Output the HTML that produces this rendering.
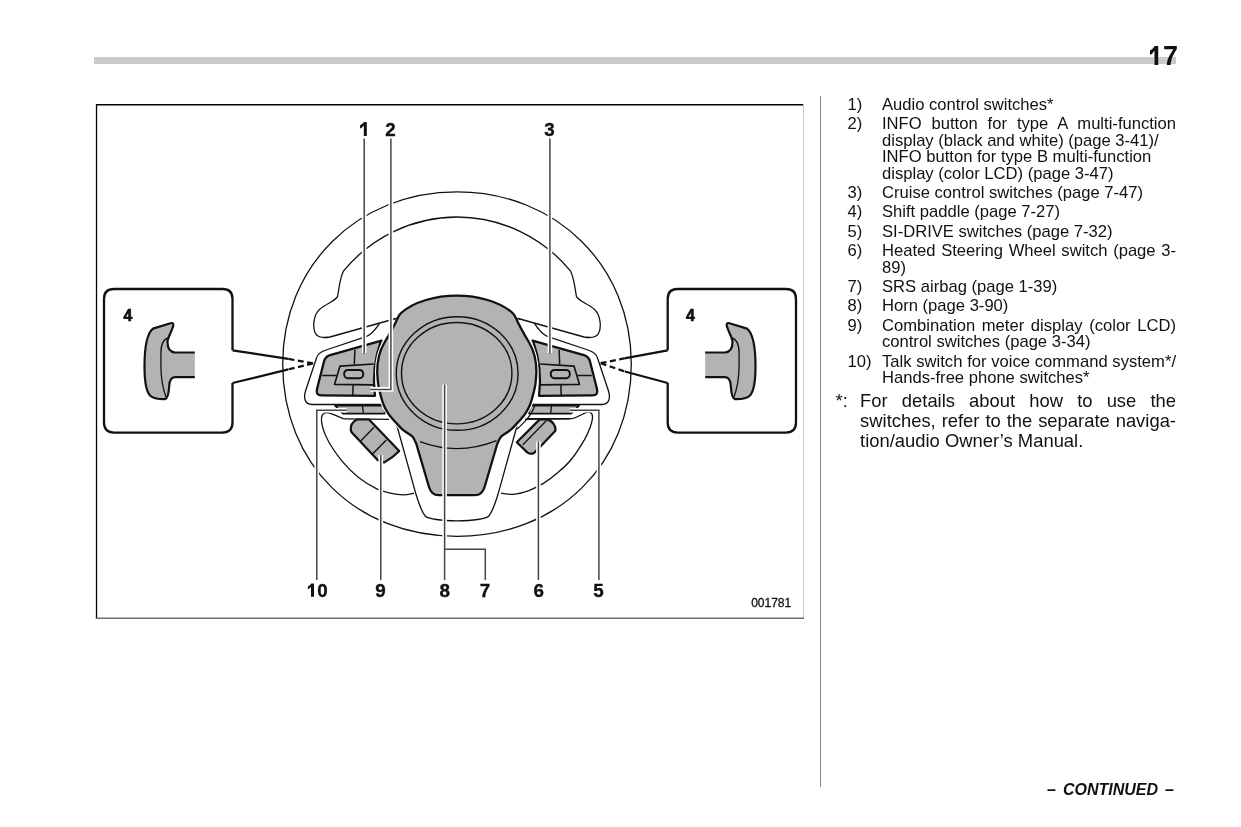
<!DOCTYPE html>
<html><head><meta charset="utf-8">
<style>
html,body{margin:0;padding:0;background:#fff;}
body{width:1241px;height:827px;position:relative;overflow:hidden;font-family:"Liberation Sans",sans-serif;color:#111;}
.g{position:absolute;left:0;top:0;width:1241px;height:827px;will-change:transform;}
.a{position:absolute;white-space:nowrap;}
.l{position:absolute;font-size:16.6px;line-height:16.6px;white-space:nowrap;}
.n{left:847.5px;}
.t{left:882px;}
.j{width:294px;text-align:justify;text-align-last:justify;}
.f{position:absolute;font-size:18.4px;line-height:18.4px;white-space:nowrap;}
</style></head><body>
<div class="a" style="left:94px;top:57px;width:1082px;height:7px;background:#cacaca;"></div>

<div class="a" style="left:820px;top:96px;width:1px;height:691px;background:#888;"></div>

<div class="g">
<!-- right column text -->
<div class="l n" style="top:96.95px">1)</div>
<div class="l t" style="top:96.95px">Audio control switches*</div>
<div class="l n" style="top:116.15px">2)</div>
<div class="l t j" style="top:116.15px">INFO button for type A multi-function</div>
<div class="l t" style="top:133.35px">display (black and white) (page 3-41)/</div>
<div class="l t" style="top:149.45px">INFO button for type B multi-function</div>
<div class="l t" style="top:166.45px">display (color LCD) (page 3-47)</div>
<div class="l n" style="top:185.35px">3)</div>
<div class="l t" style="top:185.35px">Cruise control switches (page 7-47)</div>
<div class="l n" style="top:204.45px">4)</div>
<div class="l t" style="top:204.45px">Shift paddle (page 7-27)</div>
<div class="l n" style="top:224.35px">5)</div>
<div class="l t" style="top:224.35px">SI-DRIVE switches (page 7-32)</div>
<div class="l n" style="top:243.05px">6)</div>
<div class="l t j" style="top:243.05px">Heated Steering Wheel switch (page 3-</div>
<div class="l t" style="top:260.35px">89)</div>
<div class="l n" style="top:279.45px">7)</div>
<div class="l t" style="top:279.45px">SRS airbag (page 1-39)</div>
<div class="l n" style="top:298.45px">8)</div>
<div class="l t" style="top:298.45px">Horn (page 3-90)</div>
<div class="l n" style="top:318.05px">9)</div>
<div class="l t j" style="top:318.05px">Combination meter display (color LCD)</div>
<div class="l t" style="top:334.25px">control switches (page 3-34)</div>
<div class="l n" style="top:354.45px">10)</div>
<div class="l t j" style="top:354.45px">Talk switch for voice command system*/</div>
<div class="l t" style="top:370.45px">Hands-free phone switches*</div>
<div class="f" style="left:835.5px;top:391.52px">*:</div>
<div class="f j" style="left:860.1px;width:315.9px;top:391.52px">For details about how to use the</div>
<div class="f j" style="left:860.1px;width:315.9px;top:411.72px">switches, refer to the separate naviga-</div>
<div class="f" style="left:860.1px;top:431.62px">tion/audio Owner’s Manual.</div>

<div class="a" style="left:1047px;top:782px;font-size:16px;line-height:16px;font-weight:bold;font-style:italic;word-spacing:2.6px;">– CONTINUED –</div>

</div>
<!-- figure -->
<svg class="a" style="left:0;top:0" width="1241" height="827" viewBox="0 0 1241 827">
<defs>
<g id="half">
 <!-- upper opening outline (left half) -->
 <path d="M457 217 A147 147 0 0 0 343.4 271.2 C339.5 279 339 290 337.5 296.6 C335 301 326 304 320 309 C313 315 312.5 328 315.5 333.5 C318 338 324 338 330 337 L397.7 318" stroke="#111" stroke-width="1.3" fill="none"/>
 <!-- spoke/bezel outline -->
 <path d="M379.3 323.8 C375 330 371 334.5 366.7 336.4 L326.1 350 C320 352 317.5 354 316.5 358 L305.5 391 C303.5 398 304.5 404.2 312 404.5 L384 404.5" stroke="#111" stroke-width="1.3" fill="none"/>
 <!-- pad -->
 <path d="M381.5 340.7 L330.1 355.2 C326.5 356.3 325 358 324 361.5 L317 389 C316 393.5 317.5 395.4 321.5 395.4 L375 395.8 Q371.3 368 381 340.7 Z" fill="#b3b3b3" stroke="#111" stroke-width="2.3" stroke-linejoin="round"/>
 <path d="M354.9 349.8 L354.3 364.5 M322.2 375.4 L336.6 375.4 M353.1 384.9 L352.8 395.2" stroke="#111" stroke-width="1.5" fill="none"/>
 <path d="M373.8 364 L340 366.1 L334.5 384.4 L373.6 384.9" stroke="#111" stroke-width="1.6" fill="none" stroke-linejoin="round"/>
 <rect x="344.2" y="369.9" width="19" height="8.3" rx="3.6" fill="#b3b3b3" stroke="#111" stroke-width="2"/>
 <!-- lower strip (SI-DRIVE) -->
 <path d="M334.9 405.6 L384 405.6 L385 413.6 L343 413.6 Z" fill="#b3b3b3" stroke="#111" stroke-width="1.6" stroke-linejoin="round"/>
 <path d="M362.5 405.6 L363.4 413.6" stroke="#111" stroke-width="1.3"/>
 <path d="M389 419.4 L343.8 418.8" stroke="#111" stroke-width="1.3" fill="none"/>
 <!-- lower spoke outline -->
 <path d="M396.6 424.5 L416 494.3 C419 504 421.5 512 425.5 516.4 C430 519.5 438 520.6 457 520.8" stroke="#111" stroke-width="1.3" fill="none"/>
</g>
<path id="hubp" d="M456.8 295.6 C436 295.6 414 301.5 401 313 C399.5 314.5 398.5 316 397.5 318.5 C394 326.5 389 335 384.5 342.5 C380 350 377.2 360 377.2 372 C377.4 374.2 377.6 380.7 378.3 385.0 C379.0 389.3 380.5 394.6 381.4 398.0 C382.3 401.4 382.8 403.0 383.9 405.5 C385.0 408.0 386.5 410.8 388.0 413.1 C389.5 415.4 391.4 417.7 393.0 419.5 C394.6 421.3 395.9 422.6 397.4 424.1 C398.9 425.7 400.2 427.4 401.8 428.8 C403.4 430.2 405.2 431.5 407.0 432.8 C408.8 434.1 411.3 435.1 412.8 436.9 C414.3 438.7 415.6 442.4 416.2 443.5 L429 487 Q431.5 495.2 438.5 495.2 L475.1 495.2 Q482.1 495.2 484.6 487 L497.4 443.5 C498.0 442.4 499.3 438.7 500.8 436.9 C502.3 435.1 504.8 434.1 506.6 432.8 C508.4 431.5 510.2 430.2 511.8 428.8 C513.4 427.4 514.7 425.7 516.2 424.1 C517.7 422.6 519.0 421.3 520.6 419.5 C522.2 417.7 524.1 415.4 525.6 413.1 C527.1 410.8 528.6 408.0 529.7 405.5 C530.8 403.0 531.3 401.4 532.2 398.0 C533.1 394.6 534.6 389.3 535.3 385.0 C536.0 380.7 536.2 374.2 536.4 372.0 C536.4 360 533.6 350 529.1 342.5 C524.6 335 519.6 326.5 516.1 318.5 C515.1 316 514.1 314.5 512.6 313 C499.6 301.5 477.6 295.6 456.8 295.6 Z"/>
<g id="hub">
 <use href="#hubp" fill="none" stroke="#fff" stroke-width="4.4"/>
 <use href="#hubp" fill="#b3b3b3" stroke="none"/>
 <use href="#hubp" fill="none" stroke="#111" stroke-width="2.3"/>
 <ellipse cx="457.2" cy="373.5" rx="60.9" ry="56.8" fill="none" stroke="#111" stroke-width="1.4"/>
 <ellipse cx="456.7" cy="373.2" rx="55.2" ry="50.7" fill="none" stroke="#111" stroke-width="1.4"/>
 <path d="M420 441.6 Q458 456 496.5 440.6" fill="none" stroke="#111" stroke-width="1.3"/>
</g>
<g id="paddle">
 <path d="M194.8 352.5 L175 352.5 C169.5 352 167.5 347 167.5 342 C167.5 338 170.5 334 172.5 328 C174 324 173.5 322.5 170.5 323.2 L153 328.6 C146 334 144.5 350 144.5 366.5 C144.5 380 146 391 150 395.5 C153 398.5 160 399.3 165 399.2 C168 398.5 168.8 393 169.2 386 C169.5 380 171 377.3 175 377.1 L194.8 377.1 Z" fill="#b3b3b3" stroke="none"/>
 <path d="M194.8 352.5 L175 352.5 C169.5 352 167.5 347 167.5 342 C167.5 338 170.5 334 172.5 328 C174 324 173.5 322.5 170.5 323.2 L153 328.6 C146 334 144.5 350 144.5 366.5 C144.5 380 146 391 150 395.5 C153 398.5 160 399.3 165 399.2 C168 398.5 168.8 393 169.2 386 C169.5 380 171 377.3 175 377.1 L194.8 377.1" fill="none" stroke="#111" stroke-width="2.2" stroke-linejoin="round"/>
 <path d="M168.5 338 C163 339 161 344 160.9 353 L160.9 366.5 C161 377 162.5 388 166.5 398.5" fill="none" stroke="#111" stroke-width="1.3"/>
</g>
</defs>
<g fill="none">
<line x1="96.5" y1="104" x2="96.5" y2="619" stroke="#000" stroke-width="1.3"/>
<line x1="96" y1="104.7" x2="804" y2="104.7" stroke="#000" stroke-width="1.4"/>
<line x1="803.5" y1="104" x2="803.5" y2="618" stroke="#c8c8c8" stroke-width="1"/>
<line x1="96" y1="618.2" x2="804" y2="618.2" stroke="#707070" stroke-width="1.6"/>
</g>
<!-- wheel -->
<path d="M282.7 364.1 C282.7 265.9 357.6 191.90000000000003 457 191.90000000000003 C556.4 191.90000000000003 631.3 265.9 631.3 364.1 C631.3 464.0 558.1 536.3 457 536.3 C355.9 536.3 282.7 464.0 282.7 364.1 Z" fill="none" stroke="#111" stroke-width="1.3"/>
<use href="#half"/>
<use href="#half" transform="translate(914 0) scale(-1 1)"/>
<use href="#hub"/>
<path d="M393.2 319.3 L398.6 317.8 M520.4 319.3 L515 317.8" stroke="#111" stroke-width="1.3" fill="none"/>
<!-- lower switches -->
<path d="M343.8 418.8 C338 417 332 413 327 412.6 C322.5 412.4 321 416 321.5 421 C322.5 432 330 446 341.4 460.4 C350 471 362 482 377.7 489.4 C386 492.5 396 495 404 494.8 C408 494.7 411 494 414 493.1" stroke="#111" stroke-width="1.3" fill="none"/>
<path d="M572.4 418.7 C576 417.5 579 416 582 414.5 C585 412.8 587 411.8 589 412 C592 412.5 592.8 416 592.3 419.3 C591.5 426 588 433 584.4 439.9 C580 447 576.5 453 572.4 458 C567 465 562 469 557.9 472.5 C552 477.5 548 480.5 543.4 483.4 C538 486.5 533 489 528.8 490.7 C523 492.8 518 494.2 513.1 494.3 C509 494.5 505 494 501 493.1" stroke="#111" stroke-width="1.3" fill="none"/>
<path d="M527.6 418.7 L572.4 418.7" stroke="#111" stroke-width="1.3" fill="none"/>
<path d="M535.4 404 C533.5 409.8 530 416 525.4 420.8 C523 423.5 520 426 517.3 429.2" stroke="#111" stroke-width="1.2" fill="none"/>
<path d="M358 419.5 L369 419.5 L399.2 450.9 Q393 457.5 384 462.6 L377.6 460 L351.8 432.5 Q350.6 431 350.8 429 L351 426.5 Q351.5 424 353.5 422 L355.5 420.3 Q356.5 419.5 358 419.5 Z" fill="#b3b3b3" stroke="#111" stroke-width="2.2" stroke-linejoin="round"/>
<path d="M360.5 441.2 L374 427.2 M372.3 454.3 L386.3 439.9" stroke="#111" stroke-width="1.4"/>
<path d="M539.7 419.4 L547 419.4 Q551.5 420.5 554 424.5 Q556.2 428.5 555.2 431 L540.9 445.9 L533.7 453.2 Q530.5 454.5 527.5 452.6 L516.8 442.3 Z" fill="#b3b3b3" stroke="#111" stroke-width="2.2" stroke-linejoin="round"/>
<path d="M522.8 444.7 L546.5 420.5" stroke="#111" stroke-width="1.3"/>
<!-- leader lines -->
<g stroke="#fff" stroke-width="4.6" fill="none">
<path d="M364.2 140 L364.2 353"/>
<path d="M390.9 140 L390.9 389.4 L370 389.4"/>
<path d="M549.9 140 L549.9 353"/>
<path d="M346.6 410.3 L316.8 410.3 L316.8 578"/>
<path d="M380.8 455 L380.8 578"/>
<path d="M444.6 384.6 L444.6 578"/>
<path d="M538.4 441.6 L538.4 578"/>
<path d="M569.8 410.3 L598.9 410.3 L598.9 578"/>
</g>
<g stroke="#444" stroke-width="1.5" fill="none">
<path d="M364.2 138.4 L364.2 353.4"/>
<path d="M390.9 138.4 L390.9 389.4 L370 389.4"/>
<path d="M549.9 138.4 L549.9 353.4"/>
<path d="M346.6 410.3 L316.8 410.3 L316.8 580"/>
<path d="M380.8 455 L380.8 580"/>
<path d="M444.6 384.6 L444.6 580"/>
<path d="M444.6 549.3 L485.3 549.3 L485.3 580"/>
<path d="M538.4 441.6 L538.4 580"/>
<path d="M569.8 410.3 L598.9 410.3 L598.9 580"/>
</g>
<!-- insets -->
<path d="M232.5 350.3 L232.5 299 Q232.5 289 222.5 289 L114 289 Q104 289 104 299 L104 422.6 Q104 432.6 114 432.6 L222.5 432.6 Q232.5 432.6 232.5 422.6 L232.5 383" fill="none" stroke="#111" stroke-width="2.3"/>
<path d="M232.5 350.3 L288.3 358.9 M232.5 383 L288.3 369.4" stroke="#111" stroke-width="2.2" fill="none"/>
<path d="M313 363.4 L288.3 358.9 M313 363.4 L288.3 369.4" stroke="#111" stroke-width="2.2" fill="none" stroke-dasharray="6 3.5"/>
<path d="M667.7 350.3 L667.7 299 Q667.7 289 677.7 289 L786 289 Q796 289 796 299 L796 422.6 Q796 432.6 786 432.6 L677.7 432.6 Q667.7 432.6 667.7 422.6 L667.7 383" fill="none" stroke="#111" stroke-width="2.3"/>
<path d="M667.7 350.3 L624.3 358.4 M667.7 383 L624.8 371.5" stroke="#111" stroke-width="2.2" fill="none"/>
<path d="M600.6 363.2 L624.3 358.4 M600.6 363.2 L624.8 371.5" stroke="#111" stroke-width="2.2" fill="none" stroke-dasharray="6 3.5"/>
<use href="#paddle"/>
<use href="#paddle" transform="translate(900 0) scale(-1 1)"/>
<!-- labels -->
<path d="M1158.2 46 L1158.2 64.9 L1154.5 64.9 L1154.5 50.8 Q1152.2 54.5 1150 54.8 L1150 50.4 Q1152.8 49.2 1154.8 46 Z" fill="#111"/>
<text x="1178" y="65.2" text-anchor="end" font-family="Liberation Sans" font-weight="bold" font-size="27" fill="#111">7</text>
<path d="M366.8 122 L366.8 135.9 L363.8 135.9 L363.8 125.5 Q362.0 128.1 360.1 128.4 L360.1 125.3 Q362.6 124.1 364.1 122 Z" fill="#111"/>
<path d="M314.0 583.6 L314.0 596.8 L311.0 596.8 L311.0 586.7 Q309.4 589.0 307.9 589.3 L307.9 586.6 Q310.1 585.4 311.3 583.6 Z" fill="#111"/>
<g font-family="Liberation Sans" font-weight="bold" font-size="18.8" fill="#111" stroke="#111" stroke-width="0.35">

<text x="390.6" y="135.6" text-anchor="middle">2</text>
<text x="549.6" y="135.6" text-anchor="middle">3</text>
<text x="322.4" y="596.8" text-anchor="middle">0</text>
<text x="380.6" y="596.8" text-anchor="middle">9</text>
<text x="444.8" y="596.8" text-anchor="middle">8</text>
<text x="485.1" y="596.8" text-anchor="middle">7</text>
<text x="538.7" y="596.8" text-anchor="middle">6</text>
<text x="598.6" y="596.8" text-anchor="middle">5</text>
</g>
<g font-family="Liberation Sans" font-weight="bold" font-size="15.8" fill="#111" stroke="#111" stroke-width="0.7">
<text x="123.6" y="320.8">4</text>
<text x="686.1" y="320.8">4</text>
</g>
<text x="771.2" y="606.6" font-family="Liberation Sans" font-size="12" fill="#111" stroke="#111" stroke-width="0.3" text-anchor="middle">001781</text>
</svg>
</body></html>
